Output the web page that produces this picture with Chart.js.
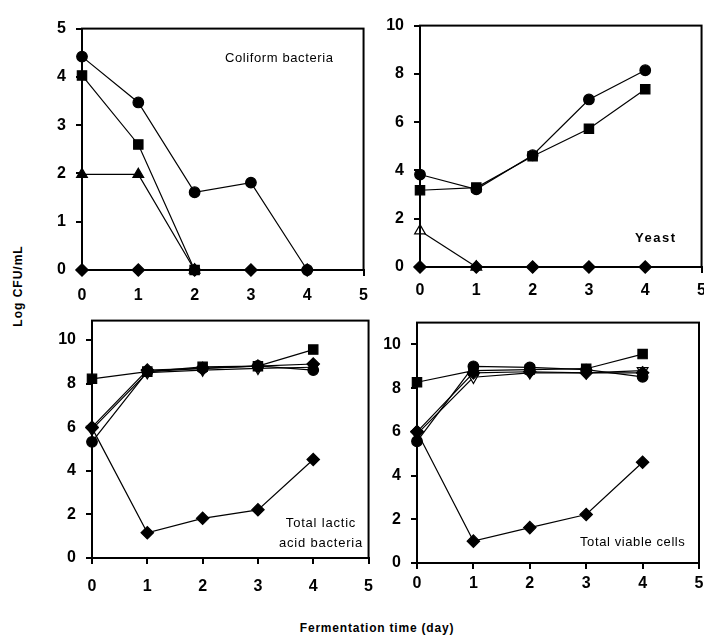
<!DOCTYPE html>
<html>
<head>
<meta charset="utf-8">
<script src="https://cdn.jsdelivr.net/npm/chart.js@4.4.1/dist/chart.umd.min.js"></script>
<style>
  html, body { margin: 0; padding: 0; background: #fff; }
  body { width: 704px; height: 641px; position: relative; overflow: hidden; font-family: "Liberation Sans", Arial, sans-serif; color: #000; }
  canvas { position: absolute; }
  .lbl { position: absolute; white-space: nowrap; line-height: 1; }
</style>
</head>
<body>
<canvas id="coliform"></canvas>
<canvas id="yeast"></canvas>
<canvas id="lab"></canvas>
<canvas id="viable"></canvas>

<div class="lbl" style="left:225px; top:51px; font-size:13px; letter-spacing:0.6px;">Coliform bacteria</div>
<div class="lbl" style="left:635px; top:231px; font-size:13px; font-weight:bold; letter-spacing:1.5px;">Yeast</div>
<div class="lbl" style="left:270px; top:513px; width:102px; text-align:center; font-size:13px; letter-spacing:0.8px; line-height:20px;">Total lactic<br>acid bacteria</div>
<div class="lbl" style="left:580px; top:535px; font-size:13px; letter-spacing:0.6px;">Total viable cells</div>
<div class="lbl" style="left:18px; top:286px; font-size:12px; font-weight:bold; letter-spacing:1px; transform:translate(-50%,-50%) rotate(-90deg);">Log CFU/mL</div>
<div class="lbl" style="left:377px; top:628px; font-size:12px; font-weight:bold; letter-spacing:0.8px; transform:translate(-50%,-50%);">Fermentation time (day)</div>

<script>
// -- Data --
const DAYS = [0, 1, 2, 3, 4];

// Coliform bacteria
const coliCircle = [4.42, 3.47, 1.61, 1.81, 0];
const coliSquare = [4.03, 2.6, 0];
const coliTriangle = [1.98, 1.98, 0];
const coliDiamond = [0, 0, 0, 0, 0];

// Yeast
const yeastCircle = [3.83, 3.22, 4.63, 6.94, 8.15];
const yeastSquare = [3.18, 3.29, 4.59, 5.73, 7.36];
const yeastTriangle = [1.5, 0];
const yeastDiamond = [0, 0, 0, 0, 0];

// Total lactic acid bacteria
const labSquare = [8.22, 8.55, 8.77, 8.8, 9.56];
const labCircle = [5.33, 8.55, 8.7, 8.81, 8.62];
const labDiamondHigh = [6.0, 8.62, 8.7, 8.8, 8.9];
const labTriangleOpen = [5.9, 8.5, 8.62, 8.7, 8.75];
const labDiamondLow = [5.97, 1.16, 1.82, 2.21, 4.52];

// Total viable cells
const tvcSquare = [8.27, 8.8, 8.85, 8.89, 9.56];
const tvcCircle = [5.57, 9.0, 8.95, 8.85, 8.52];
const tvcDiamondHigh = [6.0, 8.7, 8.75, 8.7, 8.7];
const tvcTriangleOpen = [5.9, 8.5, 8.7, 8.7, 8.8];
const tvcDiamondLow = [6.01, 1.0, 1.62, 2.22, 4.61];

// -- Helpers --
const TICK_FONT = { family: '"Liberation Sans", Arial, sans-serif', size: 16, weight: 'bold' };

function series(values, shape, open) {
    const rad = { circle: 5.3, rect: 6.6, rectRot: 6.2, triangle: 6.2 }[shape];
    return {
        data: values.map((v, i) => ({ x: DAYS[i], y: v })),
        borderColor: '#000',
        borderWidth: 1.2,
        pointStyle: shape,
        pointRadius: rad,
        pointRotation: open === 'down' ? 180 : 0,
        pointBackgroundColor: open ? '#fff' : '#000',
        pointBorderColor: '#000',
        pointBorderWidth: 1.2,
        clip: false,
        tension: 0
    };
}

// draws the closed frame around each plot area
const framePlugin = {
    id: 'frame',
    afterDraw(chart) {
        const { ctx, chartArea: a } = chart;
        ctx.save();
        ctx.strokeStyle = '#000';
        ctx.lineWidth = 2;
        ctx.strokeRect(a.left, a.top, a.right - a.left, a.bottom - a.top);
        ctx.restore();
    }
};

function makePanel(id, box, yMax, yStep, xPad, datasets) {
    const [L, T, R, B] = box;
    const canvas = document.getElementById(id);
    const padTop = 12, padRight = 12, yw = 50, xh = 45;
    canvas.width = (R - L) + yw + padRight;
    canvas.height = (B - T) + padTop + xh;
    canvas.style.left = (L - yw) + 'px';
    canvas.style.top = (T - padTop) + 'px';

    return new Chart(canvas.getContext('2d'), {
        type: 'line',
        data: { datasets },
        plugins: [framePlugin],
        options: {
            responsive: false,
            animation: false,
            layout: { padding: { top: padTop, right: padRight, left: 0, bottom: 0 } },
            plugins: { legend: { display: false }, tooltip: { enabled: false } },
            scales: {
                x: {
                    type: 'linear',
                    min: 0, max: 5,
                    ticks: { stepSize: 1, color: '#000', font: TICK_FONT, padding: xPad, maxRotation: 0 },
                    grid: { drawOnChartArea: false, drawTicks: true, tickLength: 6, color: '#000', lineWidth: 2 },
                    border: { color: '#000', width: 2 },
                    afterFit: s => { s.height = xh; }
                },
                y: {
                    min: 0, max: yMax,
                    ticks: { stepSize: yStep, includeBounds: false, color: '#000', font: TICK_FONT, padding: 10 },
                    grid: { drawOnChartArea: false, drawTicks: true, tickLength: 6, color: '#000', lineWidth: 2 },
                    border: { color: '#000', width: 2 },
                    afterFit: s => { s.width = yw; }
                }
            }
        }
    });
}

// -- Panels --
makePanel('coliform', [82, 21, 366, 270], 5, 1, 10, [
    series(coliCircle, 'circle'),
    series(coliSquare, 'rect'),
    series(coliTriangle, 'triangle'),
    series(coliDiamond, 'rectRot')
]);

makePanel('yeast', [420, 18, 702, 267], 10, 2, 8, [
    series(yeastCircle, 'circle'),
    series(yeastSquare, 'rect'),
    series(yeastDiamond, 'rectRot'),
    series(yeastTriangle, 'triangle', 'up')
]);

makePanel('lab', [92, 313, 374, 558], 10.89, 2, 13, [
    series(labSquare, 'rect'),
    series(labDiamondHigh, 'rectRot'),
    series(labCircle, 'circle'),
    series(labTriangleOpen, 'triangle', 'down'),
    series(labDiamondLow, 'rectRot')
]);

makePanel('viable', [417, 315, 699, 563], 11, 2, 5, [
    series(tvcSquare, 'rect'),
    series(tvcCircle, 'circle'),
    series(tvcDiamondHigh, 'rectRot'),
    series(tvcTriangleOpen, 'triangle', 'down'),
    series(tvcDiamondLow, 'rectRot')
]);
</script>
</body>
</html>
